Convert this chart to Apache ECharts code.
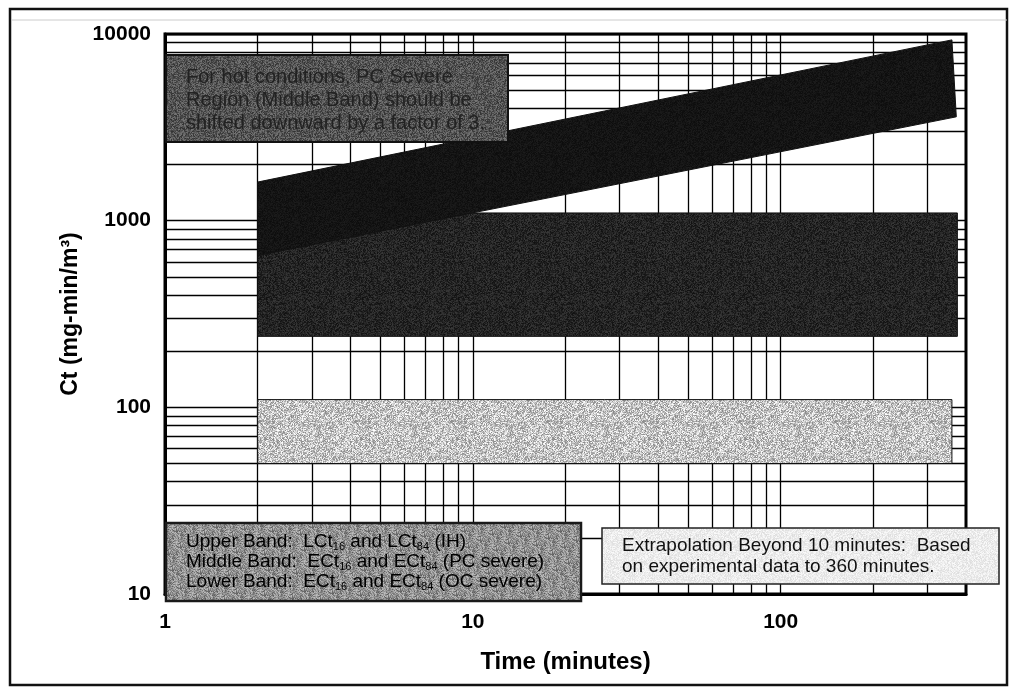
<!DOCTYPE html>
<html>
<head>
<meta charset="utf-8">
<script src="https://cdn.jsdelivr.net/npm/echarts@6/dist/echarts.min.js"></script>
<style>
html,body{margin:0;padding:0;background:#fff;}
#chart{width:1011px;height:687px;}
</style>
</head>
<body>
<div id="chart"></div>
<script>
// tick labels and grid lines (log-log)
var xLabelValues=[1,10,100];
var xGridValues=[1,2,3,4,5,6,7,8,9,10,20,30,40,50,60,70,80,90,100,200,300];
var yLabelValues=[10,100,1000,10000];
var yGridValues=[10,20,30,40,50,60,70,80,90,100,200,300,400,500,600,700,800,900,1000,2000,3000,4000,5000,6000,7000,8000,9000,10000];

// bands: corner points [time (min), Ct], clockwise from top-left
var upperBand=[[2,1610],[360,9300],[372,3600],[2,650]];
var middleBand=[[2,1100],[375,1100],[375,240],[2,240]];
var lowerBand=[[2,110],[360,110],[360,50],[2,50]];

// speckled fill, like the scanned halftone
function speckle(base,spread,seed){
    var n=96;
    var c=document.createElement("canvas");
    c.width=n;c.height=n;
    var ctx=c.getContext("2d");
    var img=ctx.createImageData(n,n);
    var s=seed;
    for(var i=0;i<n*n;i++){
        s=(s*1103515245+12345)%2147483648;
        var v=Math.round(base+(s/2147483648-0.5)*spread);
        v=Math.max(0,Math.min(255,v));
        img.data[i*4]=v;img.data[i*4+1]=v;img.data[i*4+2]=v;img.data[i*4+3]=255;
    }
    ctx.putImageData(img,0,0);
    return {image:c,repeat:"repeat"};
}

var bands=[
    {corners:middleBand,fill:speckle(36,40,7)},
    {corners:upperBand,fill:speckle(20,16,11)},
    {corners:lowerBand,fill:speckle(196,120,3)}
];

var font='Arial, "Liberation Sans", sans-serif';
var chart=echarts.init(document.getElementById("chart"));

var sub={fontSize:11,lineHeight:11,padding:[9,0,0,0],fontFamily:font,color:"#111"};
var txt={fontSize:19,lineHeight:20,fontFamily:font,color:"#111"};

option={
    backgroundColor:"#fff",
    animation:false,
    grid:{
        left:165,
        right:45,
        top:34,
        bottom:93,
        show:true,
        borderColor:"#000",
        borderWidth:3
    },
    xAxis:{
        type:"log",
        logBase:10,
        min:1,
        max:400,
        name:"Time (minutes)",
        nameLocation:"middle",
        nameGap:56,
        nameTextStyle:{color:"#000",fontSize:24,fontWeight:"bold",fontFamily:font},
        axisLine:{lineStyle:{color:"#000",width:3}},
        axisTick:{show:false,customValues:xGridValues},
        axisLabel:{
            customValues:xLabelValues,
            color:"#000",
            fontSize:21,
            fontWeight:"bold",
            fontFamily:font,
            margin:18,
            formatter:function(v){return String(Math.round(v));}
        },
        splitLine:{show:true,lineStyle:{color:"#000",width:1.3}}
    },
    yAxis:{
        type:"log",
        logBase:10,
        min:10,
        max:10000,
        name:"Ct (mg-min/m³)",
        nameLocation:"middle",
        nameGap:79,
        nameTextStyle:{color:"#000",fontSize:23,fontWeight:"bold",fontFamily:font},
        axisLine:{lineStyle:{color:"#000",width:3}},
        axisTick:{show:false,customValues:yGridValues},
        axisLabel:{
            customValues:yLabelValues,
            color:"#000",
            fontSize:21,
            fontWeight:"bold",
            fontFamily:font,
            margin:14,
            formatter:function(v){return String(Math.round(v));}
        },
        splitLine:{show:true,lineStyle:{color:"#000",width:1.3}}
    },
    series:[{
        type:"custom",
        coordinateSystem:"cartesian2d",
        silent:true,
        data:bands.map(function(b){return b.corners[0];}),
        renderItem:function(params,api){
            var b=bands[params.dataIndex];
            var pts=b.corners.map(function(c){return api.coord(c);});
            return {
                type:"polygon",
                shape:{points:pts},
                style:{fill:b.fill,stroke:"#111",lineWidth:1}
            };
        }
    }],
    graphic:[
        // scanned page frame
        {type:"rect",z:100,shape:{x:10,y:9,width:997,height:676},style:{fill:null,stroke:"#111",lineWidth:2.5}},
        {type:"line",z:100,shape:{x1:12,y1:20,x2:1007,y2:20},style:{stroke:"#ccc",lineWidth:1}},
        // hot conditions note
        {type:"rect",z:50,shape:{x:166,y:55,width:342,height:87},style:{fill:speckle(84,70,5),stroke:"#111",lineWidth:2}},
        {type:"text",z:51,x:186,y:66,style:{
            text:"For hot conditions, PC Severe\nRegion (Middle Band) should be\nshifted downward by a factor of 3.",
            fontSize:20,lineHeight:23,fontFamily:font,fill:"#222"}},
        // band legend
        {type:"rect",z:50,shape:{x:166,y:523,width:415,height:78},style:{fill:speckle(140,100,9),stroke:"#1a1a1a",lineWidth:2.5}},
        {type:"text",z:51,x:186,y:532,style:{
            text:"{a|Upper Band:  LCt}{s|16}{a| and LCt}{s|84}{a| (IH)}\n{a|Middle Band:  ECt}{s|16}{a| and ECt}{s|84}{a| (PC severe)}\n{a|Lower Band:  ECt}{s|16}{a| and ECt}{s|84}{a| (OC severe)}",
            rich:{a:txt,s:sub}}},
        // extrapolation note
        {type:"rect",z:50,shape:{x:602,y:528,width:397,height:56},style:{fill:speckle(236,30,13),stroke:"#222",lineWidth:1.5}},
        {type:"text",z:51,x:622,y:535,style:{
            text:"Extrapolation Beyond 10 minutes:  Based\non experimental data to 360 minutes.",
            fontSize:19,lineHeight:21,fontFamily:font,fill:"#111"}}
    ]
};
chart.setOption(option);
</script>
</body>
</html>
